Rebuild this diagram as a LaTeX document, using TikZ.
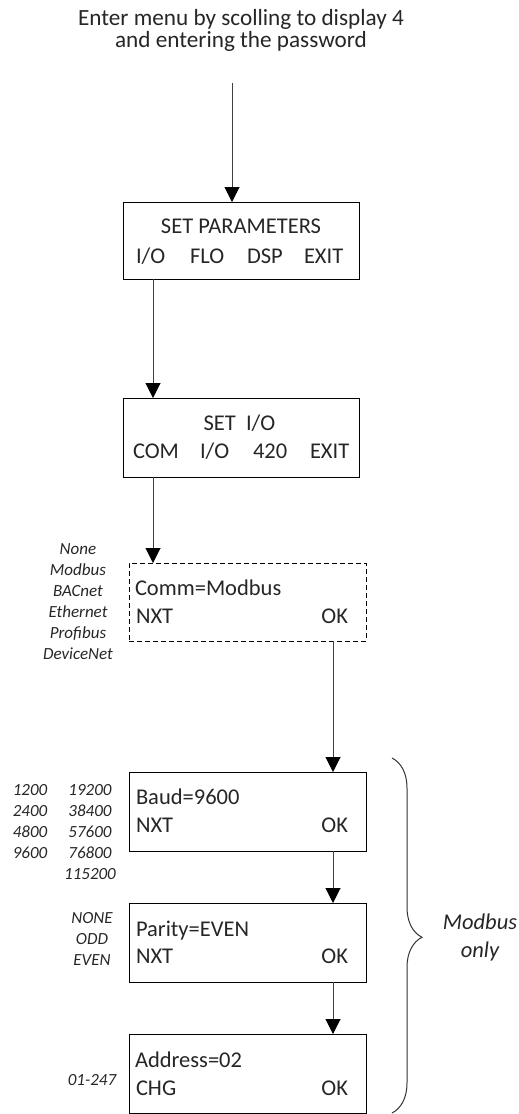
\documentclass[tikz,border=0pt]{standalone}
\usepackage{fontspec}
\setmainfont{Carlito}
\usetikzlibrary{arrows.meta,decorations.pathreplacing}
\begin{document}
\begin{tikzpicture}[x=1pt,y=-1pt,
  txt/.style={inner sep=0pt,outer sep=0pt,text=black!85,font=\fontsize{22.5}{27}\selectfont},
  ttl/.style={inner sep=0pt,outer sep=0pt,text=black!85,font=\fontsize{23.2}{27}\selectfont},
  opt/.style={inner sep=0pt,outer sep=0pt,text=black!85,font=\fontsize{17}{21}\selectfont\itshape},
  big/.style={inner sep=0pt,outer sep=0pt,text=black!85,font=\fontsize{22.5}{28}\selectfont\itshape},
  panel/.style={draw=black,line width=1pt,inner sep=0pt,outer sep=0pt,minimum width=236pt,minimum height=78pt,anchor=north west},
  conn/.style={draw=black!75,line width=1pt,-{Triangle[width=15pt,length=15pt,color=black]}},
  bracestyle/.style={draw=black!80,line width=1pt,decorate,decoration={brace,amplitude=30pt,aspect=0.505}}
]
\useasboundingbox (0,0) rectangle (519,1114);

% title
\node[ttl,anchor=base] (t1) at (241,25) {Enter menu by scolling to display 4};
\node[ttl,anchor=base] (t2) at (241,47) {and entering the password};
\coordinate (start) at (232,83);

% SET PARAMETERS
\node[panel,minimum height=77pt] (b1) at (123,202) {};
\node[txt,anchor=base] (b1t) at (241,233) {SET PARAMETERS};
\node[txt,anchor=base west] (b1a) at (136,263) {I/O};
\node[txt,anchor=base west] (b1b) at (190,263) {FLO};
\node[txt,anchor=base west] (b1c) at (247,263) {DSP};
\node[txt,anchor=base west] (b1d) at (304,263) {EXIT};

% SET I/O
\node[panel,minimum height=79pt] (b2) at (123,398) {};
\node[txt,anchor=base] (b2t) at (239.5,430) {SET\ \ I/O};
\node[txt,anchor=base west] (b2a) at (133,458) {COM};
\node[txt,anchor=base west] (b2b) at (200,458) {I/O};
\node[txt,anchor=base west] (b2c) at (253,458) {420};
\node[txt,anchor=base west] (b2d) at (310,458) {EXIT};

% Comm
\node[panel,minimum width=237pt,dash pattern=on 5pt off 3pt] (b3) at (129,563) {};
\node[txt,anchor=base west] (b3a) at (135,595) {Comm=Modbus};
\node[txt,anchor=base west] (b3b) at (136,623) {NXT};
\node[txt,anchor=base east] (b3c) at (348,623) {OK};
\foreach \t [count=\i] in {None,Modbus,BACnet,Ethernet,Profibus,DeviceNet}
  \node[opt,anchor=base] (com\i) at (78,533+21*\i) {\t};

% Baud
\node[panel,minimum width=237pt,minimum height=79pt] (b4) at (129,772) {};
\node[txt,anchor=base west] (b4a) at (136,804) {Baud=9600};
\node[txt,anchor=base west] (b4b) at (136,832) {NXT};
\node[txt,anchor=base east] (b4c) at (348,832) {OK};
\foreach \t [count=\i] in {1200,2400,4800,9600}
  \node[opt,anchor=base] (bl\i) at (30,774+21*\i) {\t};
\foreach \t [count=\i] in {19200,38400,57600,76800,115200}
  \node[opt,anchor=base] (br\i) at (90,774+21*\i) {\t};

% Parity
\node[panel,minimum width=237pt,minimum height=79pt] (b5) at (129,903) {};
\node[txt,anchor=base west] (b5a) at (136,936) {Parity=EVEN};
\node[txt,anchor=base west] (b5b) at (136,963) {NXT};
\node[txt,anchor=base east] (b5c) at (348,963) {OK};
\foreach \t [count=\i] in {NONE,ODD,EVEN}
  \node[opt,anchor=base] (par\i) at (92,902+21*\i) {\t};

% Address
\node[panel,minimum width=237pt,minimum height=79pt] (b6) at (129,1034) {};
\node[txt,anchor=base west] (b6a) at (135,1067) {Address=02};
\node[txt,anchor=base west] (b6b) at (136,1095) {CHG};
\node[txt,anchor=base east] (b6c) at (348,1095) {OK};
\node[opt,anchor=base] (addr) at (92,1085) {01-247};

% connectors
\coordinate (c2) at (153,0);
\coordinate (c4) at (333,0);
\draw[conn] (start) -- (b1.north -| start);
\draw[conn] (b1.south -| c2) -- (b2.north -| c2);
\draw[conn] (b2.south -| c2) -- (b3.north -| c2);
\draw[conn] (b3.south -| c4) -- (b4.north -| c4);
\draw[conn] (b4.south -| c4) -- (b5.north -| c4);
\draw[conn] (b5.south -| c4) -- (b6.north -| c4);

% brace
\coordinate (bt) at (392,758);
\coordinate (bb) at (392,1113);
\draw[bracestyle] (bt) -- (bb);
\node[big,anchor=base] (mb1) at (480,929) {Modbus};
\node[big,anchor=base] (mb2) at (480,957) {only};
\end{tikzpicture}
\end{document}
